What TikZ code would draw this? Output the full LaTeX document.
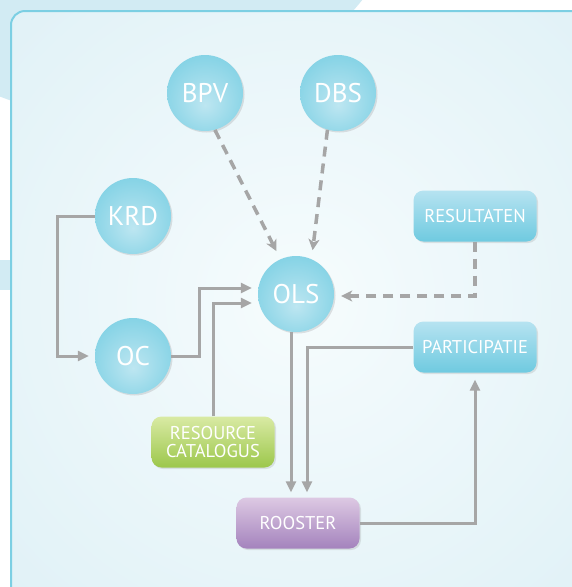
\documentclass[tikz,border=0pt]{standalone}
\usepackage{fontspec}
\setmainfont{PT Sans}
\usetikzlibrary{arrows.meta,shadows,calc}
\definecolor{blob}{HTML}{D2EBF3}
\definecolor{panelin}{HTML}{F6FCFD}
\definecolor{panelout}{HTML}{DAEEF5}
\definecolor{panelline}{HTML}{7CCFE3}
\definecolor{circin}{HTML}{BDE6F1}
\definecolor{circout}{HTML}{6BCAE0}
\definecolor{boxtop}{HTML}{B6E3F1}
\definecolor{boxbot}{HTML}{6FCAE0}
\definecolor{greentop}{HTML}{D9EAA4}
\definecolor{greenbot}{HTML}{9CC74B}
\definecolor{purtop}{HTML}{DDC9E3}
\definecolor{purbot}{HTML}{A483BD}
\definecolor{conn}{HTML}{A6A6A6}
\pgfdeclareradialshading{circshade}{\pgfpoint{0bp}{-8bp}}{color(0bp)=(circin); color(42bp)=(circout); color(50bp)=(circout)}
\tikzset{
  circnode/.style={circle, minimum size=76pt, inner sep=0pt, shading=circshade,
    text=white, font=\fontsize{27}{27}\selectfont,
    drop shadow={opacity=0.22, shadow xshift=1.5pt, shadow yshift=-1.5pt}},
  boxnode/.style={rounded corners=10pt, minimum width=123pt, minimum height=51pt, inner sep=0pt,
    text=white, font=\fontsize{18.5}{18.5}\selectfont, align=center,
    drop shadow={opacity=0.2, shadow xshift=1.5pt, shadow yshift=-1.5pt}},
  bluebox/.style={boxnode, top color=boxtop, bottom color=boxbot},
  greenbox/.style={boxnode, top color=greentop, bottom color=greenbot},
  purplebox/.style={boxnode, top color=purtop, bottom color=purbot},
  link/.style={draw=conn, line width=3pt, -{Triangle[length=11pt,width=10pt]}},
  dlink/.style={draw=conn, line width=3.5pt, dash pattern=on 10pt off 7pt,
    -{Stealth[length=11pt,width=11pt,inset=3pt]}},
}
\begin{document}
\begin{tikzpicture}[x=1pt,y=-1pt]
\useasboundingbox (0,0) rectangle (571,587);
\fill[white] (0,0) rectangle (571,587);
\fill[blob] (115,-200) circle (318pt);
\fill[blob] (0,260) rectangle (12,290);
\begin{scope}
  \clip[rounded corners=14pt] (11,11) rectangle (600,600);
  \shade[inner color=panelin, outer color=panelout] (300,300) circle (540pt);
\end{scope}
\draw[panelline, line width=2pt, rounded corners=14pt] (11,11) rectangle (600,600);

\node[circnode] (BPV) at (205,93) {BPV};
\node[circnode] (DBS) at (338,93) {DBS};
\node[circnode] (KRD) at (133,216) {KRD};
\node[circnode] (OC) at (133,356) {OC};
\node[circnode] (OLS) at (296,294) {OLS};
\node[bluebox] (RES) at (475,216) {RESULTATEN};
\node[bluebox] (PART) at (475,347) {PARTICIPATIE};
\node[greenbox] (RC) at (213,442) {RESOURCE\\CATALOGUS};
\node[purplebox] (ROO) at (298,523) {ROOSTER};

\draw[dlink, shorten >=9pt] (BPV.-75) -- (OLS.114);
\draw[dlink, shorten >=9pt] (DBS.-106) -- (OLS.66);
\draw[dlink, shorten >=7pt] (RES.south) |- ([yshift=-2pt]OLS.east);
\draw[link, shorten >=6pt] (KRD.west) -- ++(-37,0) |- (OC.west);
\draw[link, shorten >=6pt] (OC.east) -- ++(28,0) |- ([yshift=6pt]OLS.west);
\draw[link, shorten >=6pt] (RC.north) |- ([yshift=-9pt]OLS.west);
\draw[link, shorten >=5pt] ([xshift=-5pt]OLS.south) -- ([xshift=-7pt]ROO.north);
\draw[link, shorten >=5pt] (PART.west) -| ([xshift=9pt]ROO.north);
\draw[link, shorten >=7pt] (ROO.east) -| (PART.south);
\end{tikzpicture}
\end{document}
